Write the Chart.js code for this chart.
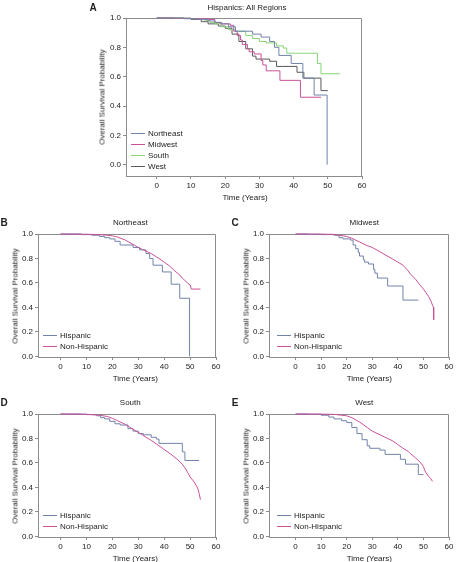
<!DOCTYPE html>
<html lang="en">
<head>
<meta charset="UTF-8">
<title>Overall Survival by Region</title>
<script src="https://cdn.jsdelivr.net/npm/chart.js"></script>
<style>
    body {
        margin: 0;
        width: 456px;
        height: 562px;
        overflow: hidden;
        background: #fff;
        font-family: 'Liberation Sans', Arial, sans-serif;
        color: #222;
    }
    .panel {
        position: absolute;
    }
    .lbl {
        position: absolute;
        font-size: 8px;
        white-space: nowrap;
        transform: translate(-50%, -50%);
    }
    .letter {
        position: absolute;
        font-size: 10px;
        font-weight: bold;
        transform: translate(-50%, -50%);
    }
    .ytitle {
        position: absolute;
        font-size: 8px;
        white-space: nowrap;
        transform: translate(-50%, -50%) rotate(-90deg);
    }
    .leg {
        position: absolute;
        font-size: 8px;
        white-space: nowrap;
        line-height: 10px;
        transform: translateY(-50%);
    }
    .leg span {
        display: inline-block;
        width: 14px;
        height: 1px;
        vertical-align: middle;
        margin-right: 3px;
    }
</style>
</head>
<body>

<script>
    // tick labels
    const xTicks = [0, 10, 20, 30, 40, 50, 60];
    const yTicks = [0, 0.2, 0.4, 0.6, 0.8, 1.0];

    // Hispanic survival, by region (time in years, survival probability)
    const neHispT = [0, 8, 12, 15, 17, 19, 21, 23, 28, 30.5, 33, 34.4, 35.7, 39.3, 42.7, 46, 49.8];
    const neHispS = [1.0, 0.995, 0.99, 0.98, 0.97, 0.96, 0.94, 0.91, 0.89, 0.87, 0.84, 0.80, 0.745, 0.69, 0.59, 0.475, 0.0];

    const mwHispT = [0, 5, 10, 15, 17, 18.5, 21.5, 22.5, 23.5, 24.5, 25, 26.5, 27, 28.5, 30.5, 31, 32, 36, 42, 48];
    const mwHispS = [1.0, 0.998, 0.995, 0.99, 0.97, 0.96, 0.95, 0.91, 0.88, 0.85, 0.82, 0.79, 0.77, 0.755, 0.71, 0.68, 0.64, 0.575, 0.46, 0.46];

    const soHispT = [0, 8, 10, 14, 15.5, 17, 19, 21, 23, 26, 28, 30, 32, 35, 37, 38, 47, 48, 53.5];
    const soHispS = [1.0, 0.998, 0.995, 0.985, 0.97, 0.96, 0.94, 0.92, 0.91, 0.88, 0.86, 0.84, 0.83, 0.81, 0.795, 0.76, 0.69, 0.62, 0.62];

    const weHispT = [0, 5, 10, 13, 15, 18, 20, 22, 24, 26, 28, 29, 33, 35, 41, 43, 48, 50];
    const weHispS = [1.0, 0.998, 0.99, 0.975, 0.96, 0.945, 0.93, 0.89, 0.84, 0.79, 0.74, 0.72, 0.705, 0.67, 0.63, 0.59, 0.505, 0.505];

    // Non-Hispanic survival, by region
    const neNonT = [0, 10, 15, 18, 20, 22, 25, 28, 30, 32, 35, 38, 40, 42, 44, 46, 47, 48, 49, 50, 50.5, 54];
    const neNonS = [1.0, 0.998, 0.995, 0.99, 0.985, 0.975, 0.95, 0.915, 0.89, 0.87, 0.84, 0.80, 0.77, 0.74, 0.70, 0.665, 0.64, 0.62, 0.60, 0.585, 0.55, 0.55];

    const mwNonT = [0, 10, 15, 17, 20, 22, 25, 28, 30, 33, 35, 38, 40, 42, 44, 45, 47, 48, 49, 50, 51, 52, 53, 53.5, 54, 54];
    const mwNonS = [1.0, 0.999, 0.997, 0.99, 0.98, 0.965, 0.935, 0.905, 0.89, 0.855, 0.83, 0.795, 0.77, 0.745, 0.70, 0.67, 0.63, 0.60, 0.575, 0.55, 0.52, 0.49, 0.45, 0.42, 0.40, 0.30];

    const soNonT = [0, 10, 15, 18, 20, 22, 25, 28, 30, 33, 35, 38, 40, 43, 45, 47, 48, 49, 50, 51, 52, 53, 53.5, 54];
    const soNonS = [1.0, 0.998, 0.99, 0.98, 0.965, 0.945, 0.915, 0.875, 0.85, 0.81, 0.785, 0.74, 0.71, 0.665, 0.63, 0.59, 0.56, 0.525, 0.485, 0.46, 0.43, 0.39, 0.35, 0.30];

    const weNonT = [0, 10, 15, 18, 20, 22, 25, 28, 30, 33, 35, 38, 40, 42, 44, 45, 47, 48, 49, 50, 50.5, 51, 52, 53, 53.5];
    const weNonS = [1.0, 0.999, 0.997, 0.99, 0.985, 0.97, 0.935, 0.89, 0.86, 0.83, 0.81, 0.78, 0.75, 0.72, 0.695, 0.675, 0.64, 0.62, 0.60, 0.57, 0.54, 0.52, 0.49, 0.47, 0.45];

    const BLUE = '#7183ab';
    const PINK = '#c9509a';
    const GREEN = '#86d674';
    const GRAY = '#5a5a5a';
    const AXIS = '#8c8c8c';

    Chart.defaults.font.family = "'Liberation Sans', Arial, sans-serif";
    Chart.defaults.font.size = 8;
    Chart.defaults.color = '#222';

    const YW = 36, XH = 22, PT = 8, PR = 10;

    // top + right border of the plot box
    const framePlugin = {
        id: 'frame',
        beforeDatasetsDraw(chart) {
            const a = chart.chartArea, ctx = chart.ctx;
            ctx.save();
            ctx.strokeStyle = AXIS;
            ctx.lineWidth = 1;
            ctx.beginPath();
            ctx.moveTo(a.left, a.top + 0.5);
            ctx.lineTo(a.right - 0.5, a.top + 0.5);
            ctx.lineTo(a.right - 0.5, a.bottom);
            ctx.stroke();
            ctx.restore();
        }
    };

    function series(t, s, color, smooth) {
        return {
            data: t.map((x, i) => ({ x: x, y: s[i] })),
            borderColor: color,
            borderWidth: 1,
            pointRadius: 0,
            stepped: smooth ? false : 'before',
            fill: false,
            clip: 4
        };
    }

    function addText(cls, text, x, y) {
        const d = document.createElement('div');
        d.className = cls;
        d.textContent = text;
        d.style.left = x + 'px';
        d.style.top = y + 'px';
        document.body.appendChild(d);
    }

    function addLegend(items, x, y0, dy) {
        items.forEach((it, i) => {
            const d = document.createElement('div');
            d.className = 'leg';
            d.style.left = x + 'px';
            d.style.top = (y0 + i * dy) + 'px';
            d.innerHTML = '<span style="background:' + it[1] + '"></span>' + it[0];
            document.body.appendChild(d);
        });
    }

    // box = [left, top, right, bottom] of the plot area in page pixels
    function makePanel(box, xMin, yMin, datasets) {
        const w = box[2] - box[0] + YW + PR;
        const h = box[3] - box[1] + PT + XH;
        const wrap = document.createElement('div');
        wrap.className = 'panel';
        wrap.style.left = (box[0] - YW) + 'px';
        wrap.style.top = (box[1] - PT) + 'px';
        const cv = document.createElement('canvas');
        cv.width = w;
        cv.height = h;
        wrap.appendChild(cv);
        document.body.appendChild(wrap);

        new Chart(cv.getContext('2d'), {
            type: 'line',
            data: { datasets: datasets },
            options: {
                responsive: false,
                animation: false,
                layout: { padding: { top: PT, right: PR, left: 0, bottom: 0 } },
                plugins: { legend: { display: false }, tooltip: { enabled: false } },
                scales: {
                    x: {
                        type: 'linear',
                        min: xMin,
                        max: 60,
                        afterBuildTicks: (sc) => { sc.ticks = xTicks.map(v => ({ value: v })); },
                        afterFit: (sc) => { sc.height = XH; },
                        grid: { drawOnChartArea: false, drawTicks: true, tickLength: 3, color: AXIS },
                        border: { display: true, color: AXIS },
                        ticks: { padding: 2, maxRotation: 0 }
                    },
                    y: {
                        min: yMin,
                        max: 1.0,
                        afterBuildTicks: (sc) => { sc.ticks = yTicks.map(v => ({ value: v })); },
                        afterFit: (sc) => { sc.width = YW; },
                        grid: { drawOnChartArea: false, drawTicks: true, tickLength: 3, color: AXIS },
                        border: { display: true, color: AXIS },
                        ticks: { padding: 2, callback: (v) => Number(v).toFixed(1) }
                    }
                }
            },
            plugins: [framePlugin]
        });
    }

    // Panel A: Hispanics, all regions
    makePanel([126, 18, 362, 176], -9, -0.077, [
        series(neHispT, neHispS, BLUE),
        series(mwHispT, mwHispS, PINK),
        series(soHispT, soHispS, GREEN),
        series(weHispT, weHispS, GRAY)
    ]);
    addText('letter', 'A', 93, 7);
    addText('lbl', 'Hispanics: All Regions', 247, 7);
    addText('ytitle', 'Overall Survival Probability', 102, 97);
    addText('lbl', 'Time (Years)', 245, 197);
    addLegend([['Northeast', BLUE], ['Midwest', PINK], ['South', GREEN], ['West', GRAY]], 131, 134, 11);

    // Panels B-E: Hispanic vs Non-Hispanic
    const regions = [
        { L: 'B', name: 'Northeast', box: [38, 234, 216, 357], xMin: -8.7, h: [neHispT, neHispS], n: [neNonT, neNonS] },
        { L: 'C', name: 'Midwest',   box: [269, 234, 449, 357], xMin: -10.4, h: [mwHispT, mwHispS], n: [mwNonT, mwNonS] },
        { L: 'D', name: 'South',     box: [38, 414, 216, 537], xMin: -8.7, h: [soHispT, soHispS], n: [soNonT, soNonS] },
        { L: 'E', name: 'West',      box: [269, 414, 449, 537], xMin: -10.4, h: [weHispT, weHispS], n: [weNonT, weNonS] }
    ];

    regions.forEach(r => {
        const b = r.box;
        makePanel(b, r.xMin, -0.005, [
            series(r.n[0], r.n[1], PINK, true),
            series(r.h[0], r.h[1], BLUE)
        ]);
        const x0 = b[0] + (0 - r.xMin) / (60 - r.xMin) * (b[2] - b[0]);
        const cx = (x0 + b[2]) / 2;
        addText('letter', r.L, b[0] - 34, b[1] - 12);
        addText('lbl', r.name, cx - 8, b[1] - 12);
        addText('ytitle', 'Overall Survival Probability', b[0] - 23, (b[1] + b[3]) / 2);
        addText('lbl', 'Time (Years)', cx - 3, b[3] + 21);
        addLegend([['Hispanic', BLUE], ['Non-Hispanic', PINK]], b[0] + 5 + (r.xMin < -10 ? 3 : 0), b[3] - 21, 10.7);
    });
</script>
</body>
</html>
